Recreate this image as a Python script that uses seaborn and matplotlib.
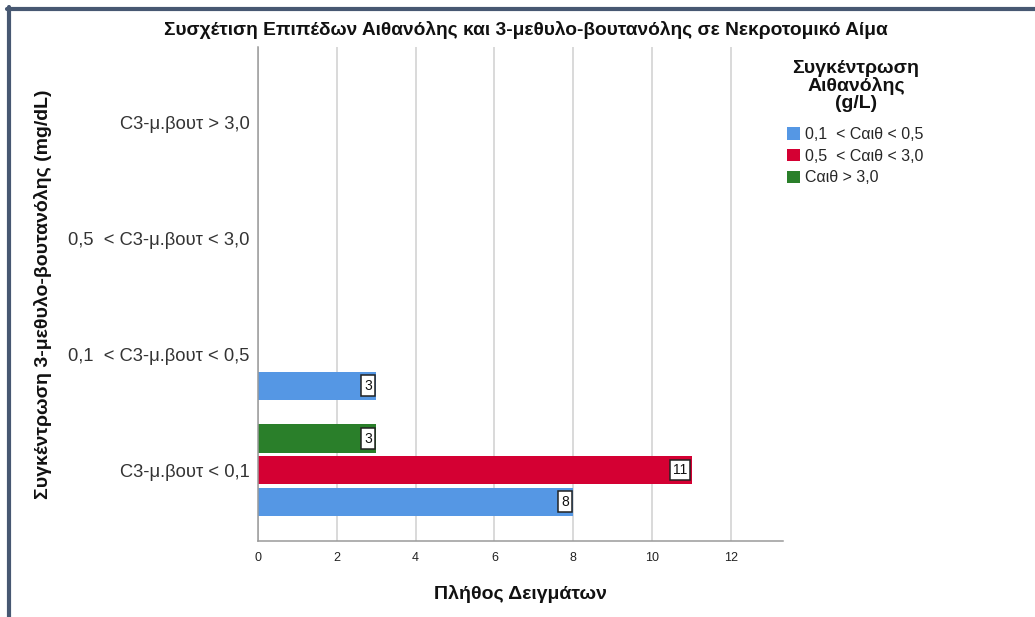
import matplotlib
matplotlib.use("Agg")
import matplotlib.pyplot as plt
from matplotlib.patches import Patch
from matplotlib.lines import Line2D
import pandas as pd
import seaborn as sns

# Butanol concentration classes (y axis) and ethanol classes (hue)
butanol_levels = [
    "C3-μ.βουτ > 3,0",
    "0,5  < C3-μ.βουτ < 3,0",
    "0,1  < C3-μ.βουτ < 0,5",
    "C3-μ.βουτ < 0,1",
]
ethanol_levels = ["0,1  < Cαιθ < 0,5", "0,5  < Cαιθ < 3,0", "Cαιθ > 3,0"]

# Sample counts per ethanol class, listed in butanol-class order
counts_low = [0, 0, 3, 8]
counts_mid = [0, 0, 0, 11]
counts_high = [0, 0, 0, 3]

ethanol_colors = ["#5597e4", "#d40033", "#2a7f2a"]

title_text = "Συσχέτιση Επιπέδων Αιθανόλης και 3-μεθυλο-βουτανόλης σε Νεκροτομικό Αίμα"
xlabel_text = "Πλήθος Δειγμάτων"
ylabel_text = "Συγκέντρωση 3-μεθυλο-βουτανόλης (mg/dL)"
legend_title = "Συγκέντρωση\nΑιθανόλης\n(g/L)"
x_ticks = [0, 2, 4, 6, 8, 10, 12]

rows = []
for eth, vals in zip(ethanol_levels, [counts_low, counts_mid, counts_high]):
    for cat, v in zip(butanol_levels, vals):
        rows.append({"butanol": cat, "ethanol": eth, "count": v})
df = pd.DataFrame(rows)

sns.set_theme(style="white")
plt.rcParams["font.family"] = ["Liberation Sans", "DejaVu Sans"]

fig = plt.figure(figsize=(10.35, 6.17), dpi=100)
ax = fig.add_axes([258 / 1035, 1 - 541 / 617, 525 / 1035, 494 / 617])

# Within each group the first ethanol class sits at the bottom
hue_order = ethanol_levels[::-1]
palette = dict(zip(ethanol_levels, ethanol_colors))
sns.barplot(
    data=df, y="butanol", x="count", hue="ethanol",
    order=butanol_levels, hue_order=hue_order, palette=palette,
    orient="h", width=0.815, gap=0.11, linewidth=0, saturation=1,
    legend=False, ax=ax,
)

ax.set_xlim(0, 13.32)
ax.set_ylim(3.612, -0.647)
ax.set_xticks(x_ticks)
ax.set_xticklabels([str(t) for t in x_ticks], fontsize=9, color="#222222")
ax.tick_params(axis="y", labelsize=13.2, colors="#333333", length=0, pad=6)
ax.tick_params(axis="x", length=0, pad=8)
ax.grid(axis="x", color="#cfcfcf", linewidth=1.1)
ax.set_axisbelow(True)
for side in ["top", "right"]:
    ax.spines[side].set_visible(False)
for side in ["left", "bottom"]:
    ax.spines[side].set_color("#9a9a9a")
    ax.spines[side].set_linewidth(1.1)

ax.set_xlabel(xlabel_text, fontsize=14, fontweight="bold", labelpad=15, color="#111111")
ax.set_ylabel(ylabel_text, fontsize=14, fontweight="bold", color="#111111")
ax.yaxis.set_label_coords(-(258 - 52) / 525, 0.5)

# Boxed count labels at the end of each bar
for container in ax.containers:
    for bar in container:
        w = bar.get_width()
        if w <= 0:
            continue
        ax.annotate(
            f"{w:g}", xy=(w, bar.get_y() + bar.get_height() / 2),
            xytext=(-3, 0), textcoords="offset points",
            ha="right", va="center", fontsize=10, color="#111111",
            bbox=dict(boxstyle="square,pad=0.22", fc="white", ec="#222222", lw=1.1),
        )

fig.text(526 / 1035, 1 - 30 / 617, title_text, ha="center", va="center",
         fontsize=13.8, fontweight="bold", color="#111111")

# Legend: heading above, colour keys below
fig.text(856 / 1035, 1 - 86 / 617, legend_title, ha="center", va="center",
         multialignment="center", linespacing=1.0,
         fontsize=14, fontweight="bold", color="#111111")
handles = [Patch(facecolor=c, edgecolor="none") for c in ethanol_colors]
leg = fig.legend(
    handles, ethanol_levels,
    loc="upper left", bbox_to_anchor=(787 / 1035, 1 - 127 / 617),
    frameon=False, fontsize=11.5,
    handlelength=0.8, handleheight=0.8, handletextpad=0.3, labelspacing=0.42,
    borderaxespad=0, borderpad=0,
)

# Window frame along the top and left edges
fig.add_artist(Line2D([7 / 1035, 1.0], [1 - 9 / 617, 1 - 9 / 617],
                      transform=fig.transFigure, color="#475872", linewidth=3.0))
fig.add_artist(Line2D([9 / 1035, 9 / 1035], [1 - 7 / 617, 0.0],
                      transform=fig.transFigure, color="#475872", linewidth=3.0))

fig.savefig("out.png", dpi=100)
